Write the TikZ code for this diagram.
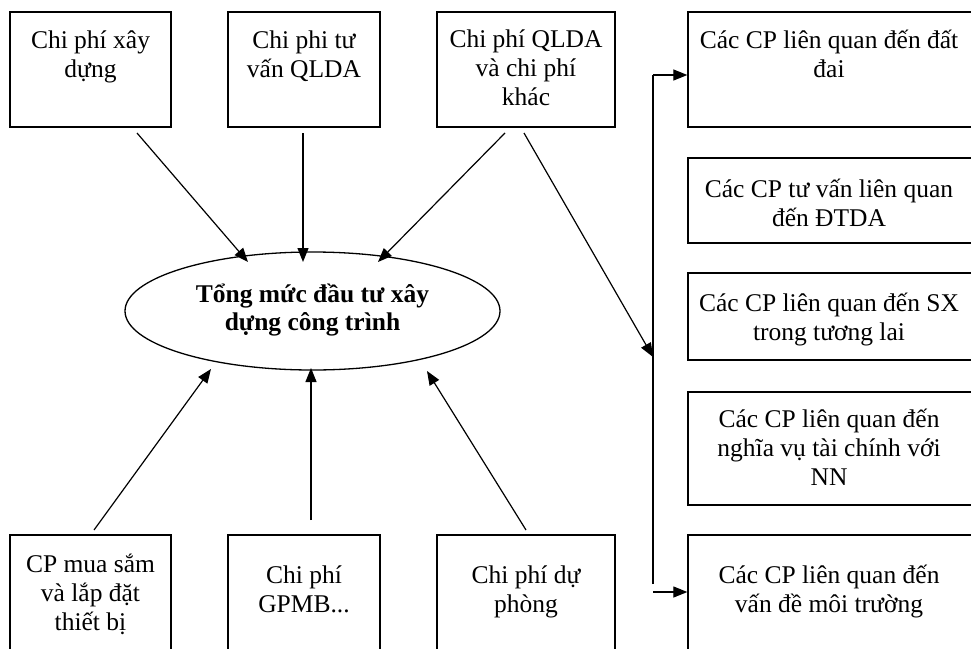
\documentclass[tikz,border=0pt]{standalone}
\usepackage{fontspec}
\setmainfont{Liberation Serif}
\usetikzlibrary{shapes.geometric,arrows.meta,calc}
\newcommand{\ml}[1]{\begin{tabular}[t]{@{}c@{}}#1\end{tabular}}
\begin{document}
\begin{tikzpicture}[x=1pt,y=-1pt,
  box/.style={draw=black, line width=1.3pt, rectangle, inner sep=0},
  lbl/.style={inner sep=0, anchor=base, font=\fontsize{25.5}{29}\selectfont},
  arr/.style={line width=1.2pt, -{Triangle[length=14pt,width=11pt]}},
  ln/.style={line width=1.2pt}]
\useasboundingbox (0,0) rectangle (971,648);
\clip (0,0) rectangle (971,648);
\fill[white] (0,0) rectangle (971,648);

% top boxes
\node[box, minimum width=161, minimum height=115] (b1) at (90.5,69.5) {};
\node[box, minimum width=152, minimum height=115] (b2) at (304,69.5) {};
\node[box, minimum width=178, minimum height=115] (b3) at (526,69.5) {};
\node[lbl] (tb1) at (90.5,48) {\ml{Chi phí xây\\dựng}};
\node[lbl] (tb2) at (304,48) {\ml{Chi phi tư\\vấn QLDA}};
\node[lbl] (tb3) at (526,47) {\ml{Chi phí QLDA\\và chi phí\\khác}};

% bottom boxes
\node[box, minimum width=161, minimum height=125] (c1) at (90.5,597.5) {};
\node[box, minimum width=152, minimum height=125] (c2) at (304,597.5) {};
\node[box, minimum width=178, minimum height=125] (c3) at (526,597.5) {};
\node[lbl] (tc1) at (90.5,572) {\ml{CP mua sắm\\và lắp đặt\\thiết bị}};
\node[lbl] (tc2) at (304,583) {\ml{Chi phí\\GPMB...}};
\node[lbl] (tc3) at (526,583) {\ml{Chi phí dự\\phòng}};

% right boxes
\node[box, minimum width=284, minimum height=115] (r1) at (830,69.5) {};
\node[box, minimum width=284, minimum height=85] (r2) at (830,200.5) {};
\node[box, minimum width=284, minimum height=87] (r3) at (830,316.5) {};
\node[box, minimum width=284, minimum height=113] (r4) at (830,448.5) {};
\node[box, minimum width=284, minimum height=125] (r5) at (830,597.5) {};
\node[lbl] (tr1) at (829,48) {\ml{Các CP liên quan đến đất\\đai}};
\node[lbl] (tr2) at (829,197) {\ml{Các CP tư vấn liên quan\\đến ĐTDA}};
\node[lbl] (tr3) at (829,311) {\ml{Các CP liên quan đến SX\\trong tương lai}};
\node[lbl] (tr4) at (829,427) {\ml{Các CP liên quan đến\\nghĩa vụ tài chính với\\NN}};
\node[lbl] (tr5) at (829,583) {\ml{Các CP liên quan đến\\vấn đề môi trường}};

% ellipse
\node[ellipse, draw=black, line width=1.3pt, minimum width=375, minimum height=118, inner sep=0,
      font=\fontsize{25.5}{28}\selectfont\bfseries] (e) at (312.5,311)
      {\begin{tabular}{@{}c@{}}Tổng mức đầu tư xây\\dựng công trình\end{tabular}};

% connector points
\coordinate (s1) at (137,133);
\coordinate (s2) at (303,133);
\coordinate (s3) at (505,133);
\coordinate (s4) at (524,133);
\coordinate (e1) at (248,262);
\coordinate (e2) at (303,262);
\coordinate (e3) at (378,262);
\coordinate (u1) at (94,530);
\coordinate (u2) at (311,520);
\coordinate (u3) at (526,530);
\coordinate (f1) at (211,369);
\coordinate (f2) at (311,368);
\coordinate (f3) at (427,371);
\coordinate (vtop) at (653,75);
\coordinate (vmid) at (653,357);
\coordinate (vbot) at (653,584);
\coordinate (vb2) at (653,592);

\draw[arr] (s1) -- (e1);
\draw[arr] (s2) -- (e2);
\draw[arr] (s3) -- (e3);
\draw[arr] (u1) -- (f1);
\draw[arr] (u2) -- (f2);
\draw[arr] (u3) -- (f3);
\draw[arr] (s4) -- (vmid);
\draw[ln] (vbot) -- (vtop);
\draw[arr] (vtop) -- (vtop -| r1.west);
\draw[arr] (vb2) -- (vb2 -| r5.west);
\end{tikzpicture}
\end{document}
